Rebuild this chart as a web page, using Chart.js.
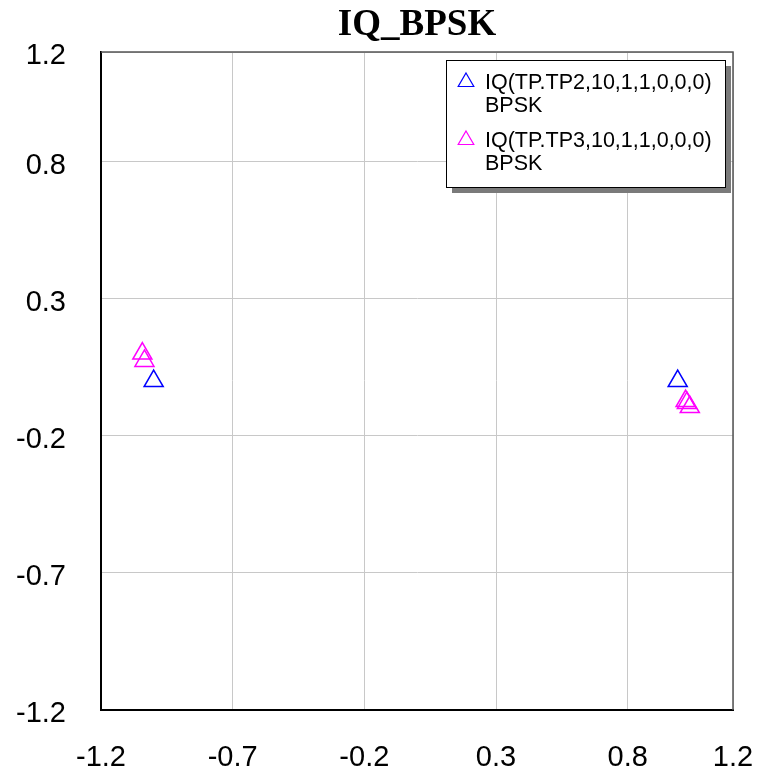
<!DOCTYPE html>
<html>
<head>
<meta charset="utf-8">
<script src="https://cdn.jsdelivr.net/npm/chart.js@4/dist/chart.umd.min.js"></script>
<style>
  html, body { margin: 0; padding: 0; background: #fff; }
  #wrap { width: 758px; height: 780px; }
</style>
</head>
<body>
<div id="wrap"><canvas id="iqChart" width="758" height="780"></canvas></div>
<script>
// constellation samples (I, Q) for the two test points
const tp2I = [-1.0, 0.99];
const tp2Q = [0.0, 0.0];
const tp3I = [-1.043, -1.035, 1.02, 1.025, 1.036];
const tp3Q = [0.10, 0.073, -0.073, -0.08, -0.095];

const seriesNames = [
    ['IQ(TP.TP2,10,1,1,0,0,0)', 'BPSK'],
    ['IQ(TP.TP3,10,1,1,0,0,0)', 'BPSK']
];
const seriesColors = ['#0000ff', '#ff00ff'];
const axisTicks = [-1.2, -0.7, -0.2, 0.3, 0.8, 1.2];

function toPoints(xs, ys) {
    return xs.map((x, i) => ({ x: x, y: ys[i] }));
}

function triangle(ctx, cx, cy, r) {
    ctx.beginPath();
    for (let k = 0; k < 3; k++) {
        const a = k * 2 * Math.PI / 3;
        const px = cx + Math.sin(a) * r;
        const py = cy - Math.cos(a) * r;
        if (k === 0) ctx.moveTo(px, py); else ctx.lineTo(px, py);
    }
    ctx.closePath();
}

// top/right frame edges plus the boxed legend with its drop shadow
const framePlugin = {
    id: 'frameAndLegend',
    afterDraw(chart) {
        const ctx = chart.ctx;
        const a = chart.chartArea;
        ctx.save();
        ctx.strokeStyle = '#555';
        ctx.lineWidth = 1.5;
        ctx.beginPath();
        ctx.moveTo(a.left, a.top);
        ctx.lineTo(a.right, a.top);
        ctx.lineTo(a.right, a.bottom);
        ctx.stroke();

        const bx = 446, by = 60, bw = 279, bh = 127;
        ctx.fillStyle = '#7a7a7a';
        ctx.fillRect(bx + 6, by + 6, bw, bh);
        ctx.fillStyle = '#fff';
        ctx.fillRect(bx, by, bw, bh);
        ctx.strokeStyle = '#000';
        ctx.lineWidth = 1;
        ctx.strokeRect(bx + 0.5, by + 0.5, bw, bh);

        ctx.font = '21.5px "Liberation Sans", Arial, sans-serif';
        ctx.textBaseline = 'middle';
        ctx.textAlign = 'left';
        chart.data.datasets.forEach((ds, i) => {
            const y0 = 83 + i * 58;
            ctx.strokeStyle = ds.borderColor;
            ctx.lineWidth = 1.2;
            triangle(ctx, 466, y0 - 1, 9);
            ctx.stroke();
            ctx.fillStyle = '#000';
            ds.label.forEach((line, j) => {
                ctx.fillText(line, 485, y0 + j * 23);
            });
        });
        ctx.restore();
    }
};

// keep the outer tick labels from shrinking the plot area
function fixX(scale) {
    scale.height = 70;
    scale.paddingLeft = 0;
    scale.paddingRight = 0;
}
function fixY(scale) {
    scale.width = 101;
    scale.paddingTop = 0;
    scale.paddingBottom = 0;
}

const ctx = document.getElementById('iqChart').getContext('2d');
const iqChart = new Chart(ctx, {
    type: 'scatter',
    data: {
        datasets: [
            {
                label: seriesNames[0],
                data: toPoints(tp2I, tp2Q),
                borderColor: seriesColors[0],
                backgroundColor: 'rgba(0,0,0,0)',
                pointStyle: 'triangle',
                pointRadius: 11,
                borderWidth: 1.5
            },
            {
                label: seriesNames[1],
                data: toPoints(tp3I, tp3Q),
                borderColor: seriesColors[1],
                backgroundColor: 'rgba(0,0,0,0)',
                pointStyle: 'triangle',
                pointRadius: 11,
                borderWidth: 1.5
            }
        ]
    },
    options: {
        responsive: false,
        animation: false,
        layout: { padding: { left: 0, right: 25, top: 0, bottom: 0 } },
        scales: {
            x: {
                type: 'linear',
                min: -1.2,
                max: 1.2,
                afterBuildTicks: (scale) => { scale.ticks = axisTicks.map(v => ({ value: v })); },
                afterFit: fixX,
                grid: { color: '#c8c8c8', lineWidth: 1, drawTicks: false },
                border: { color: '#000', width: 2 },
                ticks: {
                    color: '#000',
                    padding: 31,
                    maxRotation: 0,
                    autoSkip: false,
                    font: { family: '"Liberation Sans", Arial, sans-serif', size: 29 },
                    callback: (v) => String(Math.round(v * 10) / 10)
                }
            },
            y: {
                type: 'linear',
                min: -1.2,
                max: 1.2,
                afterBuildTicks: (scale) => { scale.ticks = axisTicks.map(v => ({ value: v })); },
                afterFit: fixY,
                grid: { color: '#c8c8c8', lineWidth: 1, drawTicks: false },
                border: { color: '#000', width: 2 },
                ticks: {
                    color: '#000',
                    padding: 35,
                    labelOffset: 4,
                    autoSkip: false,
                    font: { family: '"Liberation Sans", Arial, sans-serif', size: 29 },
                    callback: (v) => String(Math.round(v * 10) / 10)
                }
            }
        },
        plugins: {
            legend: { display: false },
            tooltip: { enabled: false },
            title: {
                display: true,
                text: 'IQ_BPSK',
                fullSize: false,
                color: '#000',
                font: { family: '"Liberation Serif", "Times New Roman", serif', size: 37, weight: 'bold', lineHeight: 1.2 },
                padding: { top: 3, bottom: 4.6 }
            }
        }
    },
    plugins: [framePlugin]
});
</script>
</body>
</html>
